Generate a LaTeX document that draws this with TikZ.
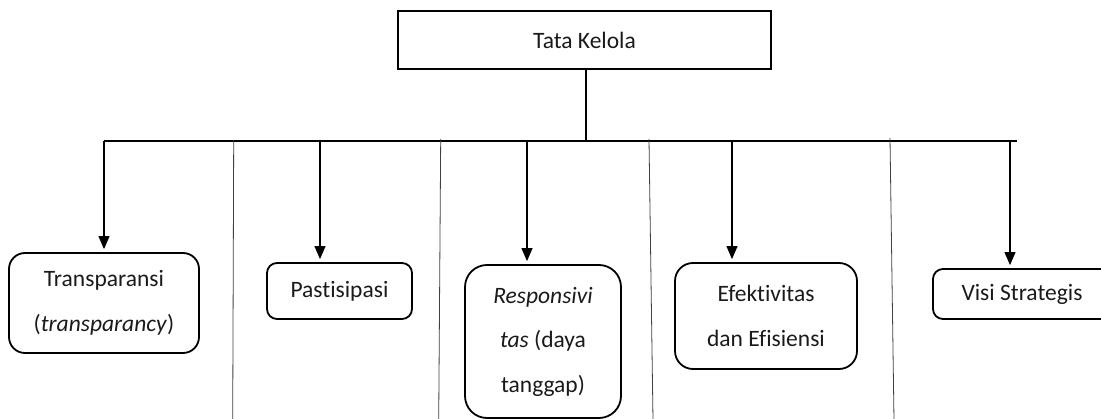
\documentclass[tikz,border=0pt]{standalone}
\usepackage{fontspec}
\setmainfont{Carlito}[Ligatures={NoCommon,NoContextual}]
\usetikzlibrary{arrows.meta}
\definecolor{txt}{HTML}{1A1A1A}
\begin{document}
\begin{tikzpicture}[x=1pt,y=-1pt,
  every node/.style={text=txt,font=\fontsize{23.5}{44.5}\selectfont,align=center,inner sep=0pt},
  topbox/.style={draw=black,line width=1.8pt},
  rbox/.style={draw=black,line width=1.8pt,rounded corners=#1},
  bus/.style={line width=2.2pt,black},
  arr/.style={line width=1.1pt,black,-{Triangle[length=13pt,width=11pt]},shorten >=3pt},
  thin/.style={line width=0.8pt,black!75}]
\useasboundingbox (0,0) rectangle (1101,419);
% top
\node[topbox,minimum width=373pt,minimum height=58pt] (top) at (584.5,40) {Tata Kelola};
% children
\node[rbox=16pt,minimum width=190pt,minimum height=100pt] (t1) at (104,303) {Transparansi\\(\textit{transparancy})};
\node[rbox=10pt,minimum width=145pt,minimum height=56pt] (t2) at (339.5,291) {Pastisipasi};
\node[rbox=22pt,minimum width=156pt,minimum height=153pt] (t3) at (543,341.5) {\textit{Responsivi}\\\textit{tas} (daya\\tanggap)};
\node[rbox=18pt,minimum width=182pt,minimum height=106pt] (t4) at (766,316) {Efektivitas\\dan Efisiensi};
\node[rbox=10pt,minimum width=178pt,minimum height=50pt] (t5) at (1022,294) {Visi Strategis};
% bus
\coordinate (bl) at (104,141);
\coordinate (br) at (1017,141);
\coordinate (b2) at (320,141);
\coordinate (b3) at (527,141);
\coordinate (b4) at (732,141);
\coordinate (b5) at (1010,141);
\coordinate (stem) at (586,69);
\draw[bus] (stem) -- (stem |- bl);
\draw[bus] (bl) -- (br);
\draw[arr] (bl) -- (bl |- t1.north);
\draw[arr] (b2) -- (b2 |- t2.north);
\draw[arr] (b3) -- (b3 |- t3.north);
\draw[arr] (b4) -- (b4 |- t4.north);
\draw[arr] (b5) -- (b5 |- t5.north);
% thin separators
\coordinate (s1a) at (233.7,140); \coordinate (s1b) at (232.7,420);
\coordinate (s2a) at (440.7,139); \coordinate (s2b) at (438.7,420);
\coordinate (s3a) at (649,139);   \coordinate (s3b) at (653,420);
\coordinate (s4a) at (890,138);   \coordinate (s4b) at (894,420);
\draw[thin] (s1a) -- (s1b);
\draw[thin] (s2a) -- (s2b);
\draw[thin] (s3a) -- (s3b);
\draw[thin] (s4a) -- (s4b);
\end{tikzpicture}
\end{document}
